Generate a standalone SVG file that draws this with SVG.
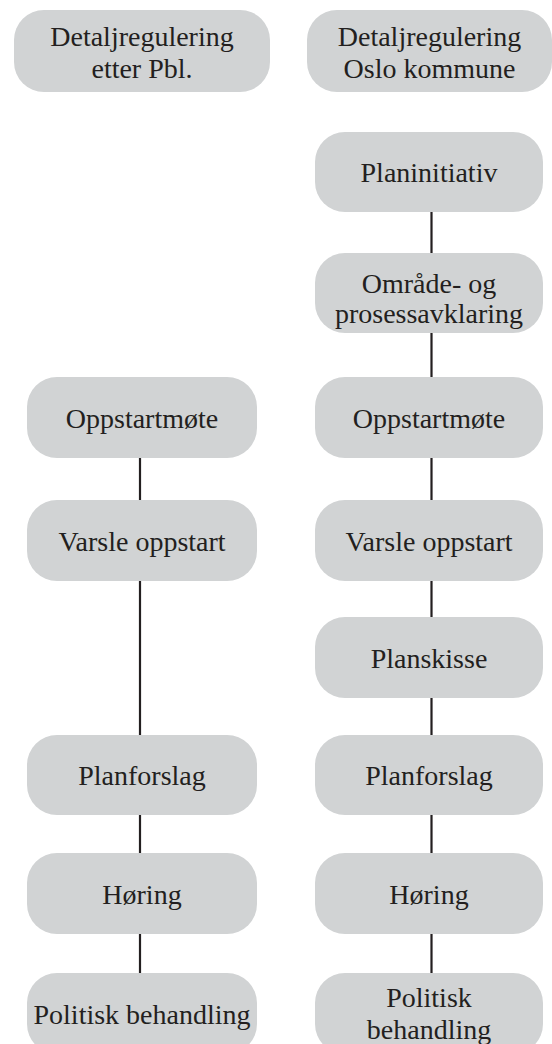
<svg xmlns="http://www.w3.org/2000/svg" width="552" height="1044" viewBox="0 0 552 1044">
<style>
.n{fill:#d1d3d4;}
.t{font-family:"Liberation Serif","Times New Roman",serif;font-size:28px;fill:#231f20;text-anchor:middle;}
.c line{stroke:#231f20;stroke-width:2.2;}
</style>
<rect width="552" height="1044" fill="#ffffff"/>
<g class="c" id="connectors">
<line x1="431.5" y1="212" x2="431.5" y2="253"/>
<line x1="431.5" y1="333" x2="431.5" y2="377"/>
<line x1="431.5" y1="458" x2="431.5" y2="500"/>
<line x1="431.5" y1="581" x2="431.5" y2="617"/>
<line x1="431.5" y1="698" x2="431.5" y2="735"/>
<line x1="431.5" y1="815" x2="431.5" y2="853"/>
<line x1="431.5" y1="934" x2="431.5" y2="973"/>
<line x1="140" y1="458" x2="140" y2="500"/>
<line x1="140" y1="581" x2="140" y2="735"/>
<line x1="140" y1="815" x2="140" y2="853"/>
<line x1="140" y1="934" x2="140" y2="973"/>
</g>
<g id="head-pbl"><rect class="n" x="14" y="10" width="256" height="82" rx="30"/><text class="t" x="142" y="46">Detaljregulering</text><text class="t" x="142" y="78">etter Pbl.</text></g>
<g id="head-oslo"><rect class="n" x="307" y="10" width="245" height="82" rx="30"/><text class="t" x="429.5" y="46">Detaljregulering</text><text class="t" x="429.5" y="78">Oslo kommune</text></g>
<g id="r-planinitiativ"><rect class="n" x="315" y="132" width="228" height="80" rx="30"/><text class="t" x="429" y="182">Planinitiativ</text></g>
<g id="r-omrade"><rect class="n" x="315" y="253" width="228" height="80" rx="30"/><text class="t" x="429" y="293">Område- og</text><text class="t" x="429" y="323">prosessavklaring</text></g>
<g id="l-oppstart"><rect class="n" x="27" y="377" width="230" height="81" rx="30"/><text class="t" x="142" y="428">Oppstartmøte</text></g>
<g id="r-oppstart"><rect class="n" x="315" y="377" width="228" height="81" rx="30"/><text class="t" x="429" y="428">Oppstartmøte</text></g>
<g id="l-varsle"><rect class="n" x="27" y="500" width="230" height="81" rx="30"/><text class="t" x="142" y="551">Varsle oppstart</text></g>
<g id="r-varsle"><rect class="n" x="315" y="500" width="228" height="81" rx="30"/><text class="t" x="429" y="551">Varsle oppstart</text></g>
<g id="r-planskisse"><rect class="n" x="315" y="617" width="228" height="81" rx="30"/><text class="t" x="429" y="668">Planskisse</text></g>
<g id="l-planforslag"><rect class="n" x="27" y="735" width="230" height="80" rx="30"/><text class="t" x="142" y="785">Planforslag</text></g>
<g id="r-planforslag"><rect class="n" x="315" y="735" width="228" height="80" rx="30"/><text class="t" x="429" y="785">Planforslag</text></g>
<g id="l-horing"><rect class="n" x="27" y="853" width="230" height="81" rx="30"/><text class="t" x="142" y="904">Høring</text></g>
<g id="r-horing"><rect class="n" x="315" y="853" width="228" height="81" rx="30"/><text class="t" x="429" y="904">Høring</text></g>
<g id="l-politisk"><rect class="n" x="27" y="973" width="230" height="81" rx="30"/><text class="t" x="142" y="1024">Politisk behandling</text></g>
<g id="r-politisk"><rect class="n" x="315" y="973" width="228" height="81" rx="30"/><text class="t" x="429" y="1007">Politisk</text><text class="t" x="429" y="1039">behandling</text></g>
</svg>
